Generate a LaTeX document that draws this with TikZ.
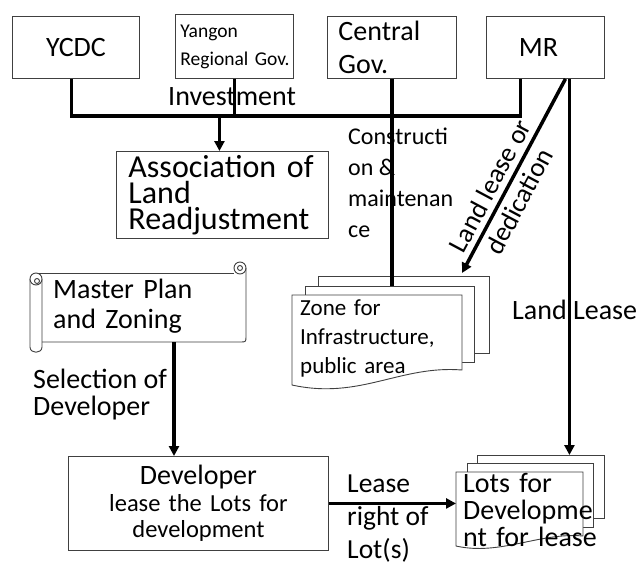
\documentclass[tikz,border=0pt]{standalone}
\usepackage{fontspec}
\setmainfont{Carlito}
\usetikzlibrary{arrows.meta}
\newcommand{\setfs}[2]{\fontsize{#1pt}{#2pt}\selectfont}
\begin{document}
\begin{tikzpicture}[x=1pt,y=-1pt,
  box/.style={draw=black!75, line width=0.9pt, fill=white, inner sep=0pt, anchor=north west},
  page/.style={draw=black!75, line width=0.9pt, fill=white, inner sep=0pt, anchor=north west},
  outline/.style={draw=black!75, line width=0.9pt},
  conn/.style={line width=3.5pt, line join=miter},
  arr/.style={conn, -{Triangle[length=10pt,width=10pt]}},
  lbl/.style={inner sep=0pt, align=left, anchor=base west},
  doctext/.style={inner ysep=0pt, anchor=north west, align=left}
]
\useasboundingbox[fill=white] (0,0) rectangle (638,563);

% top row of actors
\node[box, minimum width=127pt, minimum height=62pt, font=\setfs{28}{33}] (ycdc) at (12,16) {YCDC};
\node[box, minimum width=118pt, minimum height=64pt, align=left, text width=108pt, inner xsep=5pt,
      font=\setfs{19.5}{28}] (ygn) at (175,14) {Yangon\\\mbox{Regional Gov.}};
\node[box, minimum width=129pt, minimum height=62pt, align=left, text width=107pt, inner xsep=11pt,
      font=\setfs{28}{33}] (cgov) at (327,16) {Central\\Gov.};
\node[box, minimum width=118pt, minimum height=62pt, font=\setfs{28}{33}] (mr) at (486,16) {MR\kern14pt};

% association
\node[box, minimum width=212pt, minimum height=87pt, align=left, text width=188pt, inner xsep=12pt,
      font=\setfs{32}{26}] (assoc) at (116,151) {\mbox{Association of}\\Land\\Readjustment};

% master plan scroll
\draw[outline] (36,273) -- (234,273);
\draw[outline] (246,268) -- (246,336) .. controls (246,342) .. (240,342) -- (42,342);
\draw[outline] (240,268) circle[radius=6];
\draw[outline] (240,268) circle[radius=2.5];
\draw[outline] (30,279) -- (30,347) .. controls (30,354) and (42,354) .. (42,347) -- (42,279);
\draw[outline, fill=white] (36,279) circle[radius=6];
\draw[outline] (37,281) circle[radius=2.5];
\node[doctext, inner xsep=11pt, text width=182pt, minimum height=65pt,
      font=\setfs{28}{30}] (mplan) at (42,273) {Master Plan\\and Zoning};

% zone for infrastructure (stacked pages)
\node[page, minimum width=171pt, minimum height=77pt] (zone3) at (318,276) {};
\node[page, minimum width=169pt, minimum height=76pt] (zone2) at (305,286) {};
\draw[outline, fill=white] (292,295) -- (462,295) -- (462,370)
  .. controls (400,365) and (360,400) .. (292,385) -- cycle;
\node[doctext, inner xsep=8pt, text width=154pt, minimum height=86pt,
      font=\setfs{23}{29}] (zonedoc) at (292,295) {Zone for\\Infrastructure,\\public area};

% developer
\node[box, minimum width=260pt, minimum height=94pt, align=center, text width=260pt,
      font=\setfs{24.5}{26.5}] (dev) at (68,456) {{\setfs{28}{27}Developer}\\lease the Lots for\\development};

% lots for development (stacked pages)
\node[page, minimum width=127pt, minimum height=63pt] (lots3) at (477,455) {};
\node[page, minimum width=126pt, minimum height=64pt] (lots2) at (467,463) {};
\draw[outline, fill=white] (456,472) -- (583,472) -- (583,536)
  .. controls (540,532) and (500,556) .. (456,546) -- cycle;
\node[doctext, inner xsep=7pt, text width=113pt, minimum height=76pt,
      font=\setfs{28}{27}] (lotsdoc) at (456,472) {Lots for\\\mbox{Developme}\\\mbox{nt for lease}};

% free labels (base anchor sits on the last line)
\node[lbl, font=\setfs{28}{33}] (invest) at (168,105) {Investment};
\node[lbl, font=\setfs{24}{31}] (constr) at (348,237) {Constructi\\on \&\\maintenan\\ce};
\node[lbl, font=\setfs{28}{27}] (selec) at (33,415) {Selection of\\Developer};
\node[lbl, font=\setfs{27.5}{33}] (leaseright) at (347,558) {Lease\\right of\\Lot(s)};
\node[lbl, font=\setfs{28}{33}] (landlease) at (512,319) {Land Lease};

% connectors
\coordinate (bus) at (0,116);
\coordinate (dedend) at (462,273);
\coordinate (mpbot) at (174,342);

\draw[conn] ([xshift=-4.5pt]ycdc.south) -- ([xshift=-4.5pt]ycdc.south |- bus)
  -- ([xshift=-25pt]mr.south |- bus) -- ([xshift=-25pt]mr.south);
\draw[conn] (ygn.south) -- (ygn.south |- bus);
\draw[arr] ([xshift=-3pt]assoc.north |- bus) -- ([xshift=-3pt]assoc.north);
\draw[conn] (cgov.south) -- (cgov.south |- zone2.north);
\draw[arr] ([xshift=20pt]mr.south) -- node[pos=0.59, sloped, align=center, inner sep=0pt,
      font=\setfs{27}{33}] (dedic) {Land lease or\\dedication} (dedend);
\draw[arr] ([xshift=24pt]mr.south) -- ([xshift=24pt]mr.south |- lots3.north);
\draw[arr] (mpbot) -- (mpbot |- dev.north);
\draw[arr] (dev.east) -- (dev.east -| lotsdoc.west);
\end{tikzpicture}
\end{document}
